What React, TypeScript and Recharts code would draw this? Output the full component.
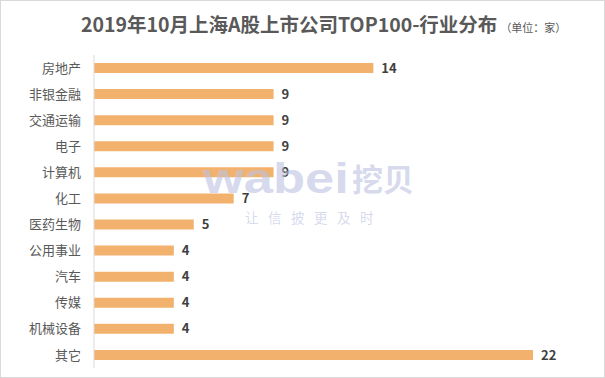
import { BarChart, Bar, XAxis, YAxis, LabelList } from 'recharts';

const industries = ['房地产', '非银金融', '交通运输', '电子', '计算机', '化工', '医药生物', '公用事业', '汽车', '传媒', '机械设备', '其它'];
const counts = [14, 9, 9, 9, 9, 7, 5, 4, 4, 4, 4, 22];

const data = industries.map((name, i) => ({ name, value: counts[i] }));

const font = '"Noto Sans CJK SC", "Noto Sans", sans-serif';
const markColor = 'rgba(188,194,226,0.62)';

const App = () => {
  return (
    <div style={{ position: 'relative', width: 605, height: 378, background: '#fff', fontFamily: font }}>
      <style>{'body{margin:0}'}</style>
      <div
        style={{
          position: 'absolute',
          top: 10,
          left: 81,
          color: '#595959',
          whiteSpace: 'nowrap',
          lineHeight: '28px',
        }}
      >
        <span style={{ fontSize: 19.5, fontWeight: 'bold' }}>2019年10月上海A股上市公司TOP100-行业分布</span>
        <span style={{ fontSize: 11, marginLeft: 3 }}>（单位：家）</span>
      </div>
      <BarChart
        width={605}
        height={378}
        data={data}
        layout="vertical"
        margin={{ top: 55, right: 72, bottom: 10, left: 0 }}
      >
        <XAxis type="number" domain={[0, 22]} hide />
        <YAxis
          type="category"
          dataKey="name"
          width={94}
          tickLine={false}
          tickMargin={7}
          axisLine={{ stroke: '#d9d9d9' }}
          tick={{ fill: '#595959', fontSize: 13, fontFamily: font }}
          interval={0}
        />
        <Bar dataKey="value" fill="#F2B26E" barSize={10} isAnimationActive={false}>
          <LabelList
            dataKey="value"
            position="right"
            offset={8}
            fill="#404040"
            fontSize={13}
            fontWeight="bold"
            fontFamily={font}
          />
        </Bar>
      </BarChart>
      {/* watermark */}
      <div
        style={{
          position: 'absolute',
          left: 203,
          top: 155,
          color: markColor,
          fontFamily: '"Liberation Sans", Arial, sans-serif',
          fontWeight: 'bold',
          fontSize: 43,
          lineHeight: '46px',
          whiteSpace: 'nowrap',
          pointerEvents: 'none',
          transform: 'scaleX(1.22)',
          transformOrigin: 'left top',
        }}
      >
        wabei
      </div>
      <div
        style={{
          position: 'absolute',
          left: 352,
          top: 158,
          color: markColor,
          fontFamily: font,
          fontWeight: 'bold',
          fontSize: 31,
          lineHeight: '40px',
          whiteSpace: 'nowrap',
          pointerEvents: 'none',
        }}
      >
        挖贝
      </div>
      <div
        style={{
          position: 'absolute',
          left: 245,
          top: 207,
          color: markColor,
          fontFamily: font,
          fontSize: 13.5,
          letterSpacing: 9.5,
          whiteSpace: 'nowrap',
          pointerEvents: 'none',
        }}
      >
        让信披更及时
      </div>
      <div
        style={{
          position: 'absolute',
          inset: 0,
          border: '1px solid #d9d9d9',
          pointerEvents: 'none',
        }}
      />
    </div>
  );
};

export default App;
